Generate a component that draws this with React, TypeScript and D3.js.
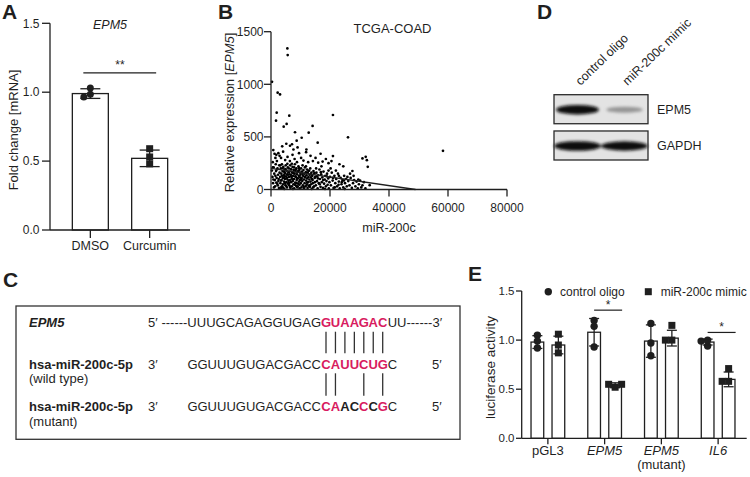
import React from 'react';
import * as d3 from 'd3';

const FONT = "'Liberation Sans', Arial, Helvetica, sans-serif";
const INK = '#1f1f1f';
const RED = '#d81b60';

// ---------- Panel A: qPCR ----------
const aCategories = ['DMSO', 'Curcumin'];
const aMeans = [0.99, 0.52];
const aSD = [0.035, 0.06];
const aPoints = [[0.985, 0.965, 1.03], [0.59, 0.53, 0.48]];
const aTicks = [0, 0.5, 1.0, 1.5];
const aSigLevel = 1.14;
const aSigText = '**';

// ---------- Panel B: TCGA-COAD scatter ----------
const bXTicks = [0, 20000, 40000, 60000, 80000];
const bYTicks = [0, 500, 1000, 1500];
const bFitIntercept = 200;
const bFitZeroAt = 49000;
const bOutliers: [number, number][] = [
  [340, 1024], [5550, 1341], [5660, 1278], [2260, 920], [3060, 904], [1930, 730], [1700, 654],
  [6200, 702], [5300, 623], [4300, 597], [14100, 604], [21000, 708], [8140, 544], [12780, 540],
  [26100, 496], [10400, 492], [8700, 464], [15830, 445], [7120, 430], [6440, 416], [5190, 435],
  [780, 375], [58300, 368], [21000, 318], [31000, 295], [32100, 311], [32500, 279], [32800, 216],
  [27600, 176], [33450, 41],
];
const bUpperBand: [number, number][] = [
  [1200, 340], [1800, 330], [2500, 345], [2900, 320], [3400, 300], [1500, 300], [4100, 360], [4800, 280],
  [5600, 310], [6400, 270], [7300, 330], [8000, 290], [8800, 260], [9500, 345], [10200, 300], [11000, 275],
  [11900, 355], [12600, 260], [13400, 320], [14200, 270], [15100, 300], [16000, 255], [16800, 340],
  [17500, 265], [18600, 290], [19500, 250], [3800, 410], [9000, 400], [12000, 380], [2000, 270], [600, 260],
  [7600, 380], [20500, 270], [23200, 240], [24500, 220],
];
const bMainCloud: [number, number][] = [
  [300, 180], [500, 120], [700, 60], [900, 210], [1100, 150], [1300, 90], [1400, 30], [1600, 240], [1700, 175],
  [1900, 110], [2100, 55], [2200, 200], [2400, 140], [2500, 80], [2700, 15], [2800, 230], [2900, 160], [1000, 20],
  [2000, 190], [2600, 100], [600, 210], [1500, 130], [2300, 40], [800, 95], [1800, 65],
  [3100, 120], [3200, 60], [3300, 200], [3400, 10], [3500, 150], [3600, 90], [3700, 240], [3800, 30], [3900, 175],
  [4000, 110], [4100, 50], [4200, 215], [4300, 135], [4400, 75], [4500, 5], [4600, 190], [4700, 100], [4800, 160],
  [4900, 40], [5000, 230], [5100, 125], [5200, 70], [5300, 180], [5400, 20], [5500, 145], [5600, 95], [5700, 210],
  [5800, 55], [5900, 165], [3150, 230], [3350, 85], [3550, 25], [3750, 130], [3950, 205], [4150, 15], [4350, 170],
  [4550, 120], [4750, 60], [4950, 195], [5150, 35], [5350, 110], [5550, 245], [5750, 140], [5950, 80], [4650, 150],
  [6000, 200], [6100, 120], [6200, 40], [6300, 170], [6400, 90], [6500, 230], [6600, 15], [6700, 140], [6800, 70],
  [6900, 190], [7000, 110], [7100, 30], [7200, 160], [7300, 215], [7400, 80], [7500, 130], [7600, 50], [7700, 185],
  [7800, 100], [7900, 10], [8000, 150], [8100, 240], [8200, 65], [8300, 175], [8400, 120], [8500, 35], [8600, 200],
  [8700, 90], [8800, 145], [8900, 20], [9000, 165], [9100, 105], [9200, 55], [9300, 220], [9400, 130], [9500, 75],
  [9600, 185], [9700, 10], [9800, 115], [9900, 160], [6050, 60], [6250, 145], [6450, 25], [6650, 195], [6850, 125],
  [7050, 245], [7250, 95], [7450, 5], [7650, 155], [7850, 210], [8050, 45], [8250, 125], [8450, 190], [8650, 60],
  [8850, 105], [9050, 30], [9250, 175], [9450, 205], [9650, 45], [9850, 90],
  [10000, 140], [10100, 60], [10200, 200], [10300, 20], [10400, 110], [10500, 170], [10600, 80], [10700, 230],
  [10800, 40], [10900, 130], [11000, 185], [11100, 95], [11200, 10], [11300, 150], [11400, 60], [11500, 210],
  [11600, 115], [11700, 30], [11800, 165], [11900, 85], [12000, 135], [12100, 45], [12200, 190], [12300, 105],
  [12400, 15], [12500, 155], [12600, 70], [12700, 120], [12800, 35], [12900, 180], [13000, 95], [13100, 140],
  [13200, 25], [13300, 200], [13400, 75], [13500, 115], [13600, 50], [13700, 160], [13800, 5], [13900, 100],
  [14000, 130], [14200, 60], [14400, 175], [14600, 30], [14800, 110], [10250, 100], [10650, 150], [11050, 25],
  [11450, 120], [11850, 220], [12250, 65], [12650, 175], [13050, 40], [13450, 145], [14100, 90], [14300, 20],
  [14700, 155], [14900, 70],
  [15000, 120], [15200, 40], [15400, 160], [15600, 80], [15800, 10], [16000, 135], [16200, 60], [16400, 190],
  [16600, 100], [16800, 25], [17000, 145], [17200, 70], [17400, 115], [17600, 15], [17800, 170], [18000, 55],
  [18200, 95], [18400, 130], [18600, 30], [18800, 80], [19000, 150], [19200, 45], [19400, 105], [19600, 10],
  [19800, 70], [15300, 200], [15900, 105], [16500, 50], [17100, 220], [17700, 90], [18300, 5], [18900, 125],
  [19500, 180], [15500, 125], [16900, 165],
  [20000, 120], [20300, 40], [20600, 160], [20900, 85], [21200, 15], [21500, 130], [21800, 60], [22100, 100],
  [22400, 30], [22700, 150], [23000, 75], [23300, 10], [23600, 110], [23900, 50], [24200, 90], [24500, 20],
  [24800, 130], [25100, 60], [25400, 100], [25700, 30], [20200, 200], [21000, 110], [22000, 180], [23000, 130],
  [24000, 70], [25000, 5], [21600, 20], [22900, 45], [24700, 85], [25900, 120],
  [26200, 80], [26600, 40], [27000, 110], [27400, 15], [27800, 60], [28200, 90], [28600, 30], [29000, 75],
  [29400, 10], [29800, 50], [30200, 85], [30600, 20], [31000, 40], [31500, 70], [32000, 10], [26800, 150],
  [28000, 130], [29600, 95],
];

// ---------- Panel C: sequence alignment ----------
const cTargetName = 'EPM5';
const cTargetPrefix = '------UUUGCAGAGGUGAG';
const cTargetSeed = 'GUAAGAC';
const cTargetSuffix = 'UU------3\u2032';
const cMirName = 'hsa-miR-200c-5p';
const cMirPrefix = 'GGUUUGUGACGACC';
const cMirWtSeed = 'CAUUCUG';
const cMirMutSeed = 'CAACCCG';
const cMirMutKept = [true, true, false, false, true, false, true];
const cMirSuffix = 'C';
const cWtPairs = [0, 1, 2, 3, 4, 5, 6];
const cMutPairs = [0, 1, 4, 6];

// ---------- Panel D: western blot ----------
const dLanes = ['control oligo', 'miR-200c mimic'];
const dProteins = ['EPM5', 'GAPDH'];
const dIntensity = [[1, 0.33], [1, 0.97]];

// ---------- Panel E: luciferase ----------
const eCategories = ['pGL3', 'EPM5', 'EPM5 (mutant)', 'IL6'];
const eLabelLine1 = ['pGL3', 'EPM5', 'EPM5', 'IL6'];
const eLabelLine2 = ['', '', '(mutant)', ''];
const eLabelItalic = [false, true, true, true];
const eSeries = ['control oligo', 'miR-200c mimic'];
const eControlMeans = [0.98, 1.08, 0.99, 0.98];
const eControlSD = [0.065, 0.14, 0.165, 0.03];
const eMimicMeans = [0.95, 0.54, 1.02, 0.6];
const eMimicSD = [0.09, 0.025, 0.08, 0.075];
const eControlPoints = [[1.05, 0.99, 0.92], [1.2, 1.14, 0.93], [1.17, 0.97, 0.84], [0.94, 0.99, 1.0]];
const eMimicPoints = [[1.06, 0.95, 0.87], [0.52, 0.55, 0.55], [1.15, 1.0, 1.0], [0.71, 0.58, 0.58]];
const eTicks = [0, 0.5, 1.0, 1.5];
const eSig = [{ cat: 'EPM5', level: 1.305 }, { cat: 'IL6', level: 1.078 }];

function swarm(values: number[], y: (v: number) => number, x0: number, step: number, minDist: number) {
  const placed: { x: number; y: number }[] = [];
  values.forEach((v) => {
    const py = y(v);
    const ks = [0, -1, 1, -2, 2, -3, 3];
    let px = x0;
    for (const k of ks) {
      const cx = x0 + k * step;
      if (placed.every((p) => Math.hypot(p.x - cx, p.y - py) >= minDist)) { px = cx; break; }
    }
    placed.push({ x: px, y: py });
  });
  return placed;
}

function Marker({ x, y, shape, size }: { x: number; y: number; shape: string; size: number }) {
  if (shape === 'circle') return <circle cx={x} cy={y} r={size / 2} fill={INK} />;
  return <rect x={x - size / 2} y={y - size / 2} width={size} height={size} fill={INK} />;
}

function ErrBar({ x, y1, y2, cap }: { x: number; y1: number; y2: number; cap: number }) {
  return (
    <g stroke={INK} strokeWidth={1.3}>
      <line x1={x} x2={x} y1={y1} y2={y2} />
      <line x1={x - cap / 2} x2={x + cap / 2} y1={y1} y2={y1} />
      <line x1={x - cap / 2} x2={x + cap / 2} y1={y2} y2={y2} />
    </g>
  );
}

export default function App() {
  // ---- A scales
  const yA = d3.scaleLinear().domain([0, 1.5]).range([230, 23.3]);
  const xA = d3.scalePoint<string>().domain(aCategories).range([50, 190]).padding(0.68);
  const aBarW = 36;

  // ---- B scales
  const xB = d3.scaleLinear().domain([0, 80000]).range([271, 507]);
  const yB = d3.scaleLinear().domain([0, 1500]).range([189.5, 31.7]);
  const bAll = [...bOutliers, ...bUpperBand, ...bMainCloud];
  const fitLine = d3.line<[number, number]>().x((d) => xB(d[0])).y((d) => yB(d[1]));
  const fitData: [number, number][] = [[0, bFitIntercept], [bFitZeroAt, 0]];

  // ---- D
  const xD = d3.scaleBand<string>().domain(dLanes).range([554, 648]);
  const yD = d3.scaleBand<string>().domain(dProteins).range([94.7, 160]).paddingInner(0.2);
  const grey = d3.interpolateRgb('#d9d9d9', '#0b0b0b');

  // ---- E scales
  const yE = d3.scaleLinear().domain([0, 1.5]).range([438.3, 291]);
  const xE = d3.scaleBand<string>().domain(eCategories).range([519.5, 746.5]);
  const eCenter = (c: string) => (xE(c) as number) + xE.bandwidth() / 2;
  const eOff = 10.5;
  const eBarW = 12.7;

  // ---- C geometry
  const seedStart = 326;
  const seedPitch = 9.45;
  const seedX = (i: number) => seedStart + i * seedPitch;

  return (
    <svg width={750} height={477} style={{ position: 'absolute', left: 0, top: 0, background: '#fff' }}
      fontFamily={FONT} fill={INK}>
      <defs>
        <filter id="bandBlur" x="-30%" y="-100%" width="160%" height="300%">
          <feGaussianBlur stdDeviation="1.6" />
        </filter>
      </defs>

      {/* Panel letters */}
      <g fontWeight="bold" fontSize={21}>
        <text x={2} y={18.5}>A</text>
        <text x={218} y={18.5}>B</text>
        <text x={537} y={18.5}>D</text>
        <text x={3} y={287}>C</text>
        <text x={468} y={281}>E</text>
      </g>

      {/* ================= Panel A ================= */}
      <g>
        <text x={110} y={28.5} fontSize={12.5} fontStyle="italic" textAnchor="middle">EPM5</text>
        <text transform={`translate(17.5,130) rotate(-90)`} fontSize={13} textAnchor="middle">Fold change [mRNA]</text>
        {aCategories.map((c, i) => {
          const cx = xA(c) as number;
          const pts = swarm(aPoints[i], yA, cx, 6.5, 5.5);
          return (
            <g key={c}>
              <rect x={cx - aBarW / 2} y={yA(aMeans[i])} width={aBarW} height={yA(0) - yA(aMeans[i])}
                fill="#fff" stroke={INK} strokeWidth={1.3} />
              {pts.map((p, j) => <Marker key={j} x={p.x} y={p.y} shape={i === 0 ? 'circle' : 'square'} size={7} />)}
              <ErrBar x={cx} y1={yA(aMeans[i] + aSD[i])} y2={yA(aMeans[i] - aSD[i])} cap={20} />
              <line x1={cx} x2={cx} y1={yA(0)} y2={yA(0) + 8} stroke={INK} strokeWidth={1.3} />
              <text x={cx} y={250} fontSize={12.5} textAnchor="middle">{c}</text>
            </g>
          );
        })}
        <line x1={50} x2={50} y1={yA(1.5)} y2={yA(0)} stroke={INK} strokeWidth={1.3} />
        <line x1={50} x2={190} y1={yA(0)} y2={yA(0)} stroke={INK} strokeWidth={1.3} />
        {aTicks.map((t) => (
          <g key={t}>
            <line x1={42} x2={50} y1={yA(t)} y2={yA(t)} stroke={INK} strokeWidth={1.3} />
            <text x={39.5} y={yA(t) + 4.2} fontSize={12} textAnchor="end">{t.toFixed(1)}</text>
          </g>
        ))}
        <line x1={(xA('DMSO') as number) - 7} x2={(xA('Curcumin') as number) + 6.5}
          y1={yA(aSigLevel)} y2={yA(aSigLevel)} stroke={INK} strokeWidth={1.2} />
        <text x={((xA('DMSO') as number) + (xA('Curcumin') as number)) / 2} y={yA(aSigLevel) - 4}
          fontSize={12} textAnchor="middle">{aSigText}</text>
      </g>

      {/* ================= Panel B ================= */}
      <g>
        <text x={392.5} y={32.7} fontSize={13} textAnchor="middle">TCGA-COAD</text>
        <text x={389} y={231.5} fontSize={12.5} textAnchor="middle">miR-200c</text>
        <text transform={`translate(234,112.5) rotate(-90)`} fontSize={13} textAnchor="middle">
          Relative expression [<tspan fontStyle="italic">EPM5</tspan>]
        </text>
        {bAll.map((d, i) => (
          <circle key={i} cx={xB(d[0])} cy={yB(d[1])} r={1.35} fill="#000" />
        ))}
        <path d={fitLine(fitData) as string} stroke={INK} strokeWidth={1.3} fill="none" />
        <line x1={xB(0)} x2={xB(0)} y1={yB(1500)} y2={yB(0)} stroke={INK} strokeWidth={1.3} />
        <line x1={xB(0)} x2={xB(80000)} y1={yB(0)} y2={yB(0)} stroke={INK} strokeWidth={1.3} />
        {bYTicks.map((t) => (
          <g key={t}>
            <line x1={xB(0) - 7} x2={xB(0)} y1={yB(t)} y2={yB(t)} stroke={INK} strokeWidth={1.3} />
            <text x={xB(0) - 7.5} y={yB(t) + 4.2} fontSize={12} textAnchor="end">{t}</text>
          </g>
        ))}
        {bXTicks.map((t) => (
          <g key={t}>
            <line x1={xB(t)} x2={xB(t)} y1={yB(0)} y2={yB(0) + 7} stroke={INK} strokeWidth={1.3} />
            <text x={xB(t)} y={211.5} fontSize={12} textAnchor="middle">{t}</text>
          </g>
        ))}
      </g>

      {/* ================= Panel D ================= */}
      <g>
        {dLanes.map((l, i) => {
          const cx = (xD(l) as number) + xD.bandwidth() / 2;
          return (
            <text key={l} transform={`translate(${cx + 3},86) rotate(-44)`} fontSize={12.5}>{l}</text>
          );
        })}
        {dProteins.map((p, r) => {
          const y0 = yD(p) as number;
          const h = yD.bandwidth();
          return (
            <g key={p}>
              <rect x={554} y={y0} width={94} height={h} fill="#e3e3e3" />
              <g filter="url(#bandBlur)">
                {dLanes.map((l, i) => {
                  const cx = (xD(l) as number) + xD.bandwidth() / 2;
                  const inten = dIntensity[r][i];
                  const rx = (xD.bandwidth() / 2) * (0.74 + 0.22 * inten) * (r === 1 ? 1.05 : 0.95);
                  const ry = 2.2 + 2.6 * inten;
                  return <ellipse key={l} cx={cx} cy={y0 + h / 2 + 0.5} rx={rx} ry={ry} fill={grey(inten)} />;
                })}
              </g>
              <rect x={554} y={y0} width={94} height={h} fill="none" stroke="#2a2a2a" strokeWidth={1.3} />
              <text x={657} y={y0 + h / 2 + 4.5} fontSize={12.5}>{p}</text>
            </g>
          );
        })}
      </g>

      {/* ================= Panel C ================= */}
      <g fontSize={13}>
        <rect x={16} y={306} width={444} height={133.3} fill="none" stroke="#333" strokeWidth={1.3} />
        {/* row 1 */}
        <text x={29} y={326.5} fontWeight="bold" fontStyle="italic">{cTargetName}</text>
        <text x={148} y={326.5}>5{'\u2032'}</text>
        <text x={seedStart - 5} y={326.5} textAnchor="end">{cTargetPrefix}</text>
        {cTargetSeed.split('').map((ch, i) => (
          <text key={i} x={seedX(i)} y={326.5} textAnchor="middle" fontWeight="bold" fill={RED}>{ch}</text>
        ))}
        <text x={seedX(6) + 5} y={326.5}>{cTargetSuffix}</text>
        {cWtPairs.map((i) => (
          <line key={i} x1={seedX(i)} x2={seedX(i)} y1={331.7} y2={353.3} stroke="#333" strokeWidth={1.3} />
        ))}
        {/* row 2 */}
        <text x={29} y={368.5} fontWeight="bold">{cMirName}</text>
        <text x={29} y={382.5}>(wild type)</text>
        <text x={148} y={368.5}>3{'\u2032'}</text>
        <text x={seedStart - 5} y={368.5} textAnchor="end">{cMirPrefix}</text>
        {cMirWtSeed.split('').map((ch, i) => (
          <text key={i} x={seedX(i)} y={368.5} textAnchor="middle" fontWeight="bold" fill={RED}>{ch}</text>
        ))}
        <text x={seedX(6) + 5} y={368.5}>{cMirSuffix}</text>
        <text x={432} y={368.5}>5{'\u2032'}</text>
        {cMutPairs.map((i) => (
          <line key={i} x1={seedX(i)} x2={seedX(i)} y1={373.3} y2={395.7} stroke="#333" strokeWidth={1.3} />
        ))}
        {/* row 3 */}
        <text x={29} y={411} fontWeight="bold">{cMirName}</text>
        <text x={29} y={425.5}>(mutant)</text>
        <text x={148} y={411}>3{'\u2032'}</text>
        <text x={seedStart - 5} y={411} textAnchor="end">{cMirPrefix}</text>
        {cMirMutSeed.split('').map((ch, i) => (
          <text key={i} x={seedX(i)} y={411} textAnchor="middle" fontWeight="bold" fill={cMirMutKept[i] ? RED : INK}>{ch}</text>
        ))}
        <text x={seedX(6) + 5} y={411}>{cMirSuffix}</text>
        <text x={432} y={411}>5{'\u2032'}</text>
      </g>

      {/* ================= Panel E ================= */}
      <g>
        <text transform={`translate(494.5,367.5) rotate(-90)`} fontSize={13.5} textAnchor="middle">luciferase activity</text>
        {/* legend */}
        <Marker x={548.3} y={291.7} shape="circle" size={7.4} />
        <text x={560} y={296} fontSize={12}>{eSeries[0]}</text>
        <Marker x={648.3} y={291.7} shape="square" size={7} />
        <text x={660.7} y={296} fontSize={12}>{eSeries[1]}</text>

        {eCategories.map((c, i) => {
          const gc = eCenter(c);
          const cxC = gc - eOff;
          const cxM = gc + eOff;
          const ptsC = swarm(eControlPoints[i], yE, cxC, 6.5, 5.5);
          const ptsM = swarm(eMimicPoints[i], yE, cxM, 6.5, 5.5);
          return (
            <g key={c}>
              <rect x={cxC - eBarW / 2} y={yE(eControlMeans[i])} width={eBarW} height={yE(0) - yE(eControlMeans[i])}
                fill="#fff" stroke={INK} strokeWidth={1.3} />
              <rect x={cxM - eBarW / 2} y={yE(eMimicMeans[i])} width={eBarW} height={yE(0) - yE(eMimicMeans[i])}
                fill="#fff" stroke={INK} strokeWidth={1.3} />
              {ptsC.map((p, j) => <Marker key={'c' + j} x={p.x} y={p.y} shape="circle" size={7.4} />)}
              {ptsM.map((p, j) => <Marker key={'m' + j} x={p.x} y={p.y} shape="square" size={7} />)}
              <ErrBar x={cxC} y1={yE(eControlMeans[i] + eControlSD[i])} y2={yE(eControlMeans[i] - eControlSD[i])} cap={10} />
              <ErrBar x={cxM} y1={yE(eMimicMeans[i] + eMimicSD[i])} y2={yE(eMimicMeans[i] - eMimicSD[i])} cap={10} />
              <line x1={gc} x2={gc} y1={yE(0)} y2={yE(0) + 6} stroke={INK} strokeWidth={1.3} />
              <text x={gc} y={455} fontSize={13} textAnchor="middle" fontStyle={eLabelItalic[i] ? 'italic' : 'normal'}>{eLabelLine1[i]}</text>
              {eLabelLine2[i] && <text x={gc} y={468.5} fontSize={13} textAnchor="middle">{eLabelLine2[i]}</text>}
            </g>
          );
        })}
        <line x1={521.7} x2={521.7} y1={yE(1.5)} y2={yE(0)} stroke={INK} strokeWidth={1.3} />
        <line x1={521.7} x2={746.7} y1={yE(0)} y2={yE(0)} stroke={INK} strokeWidth={1.3} />
        {eTicks.map((t) => (
          <g key={t}>
            <line x1={516} x2={521.7} y1={yE(t)} y2={yE(t)} stroke={INK} strokeWidth={1.3} />
            <text x={514.5} y={yE(t) + 4} fontSize={11.5} textAnchor="end">{t.toFixed(1)}</text>
          </g>
        ))}
        {eSig.map((s) => {
          const gc = eCenter(s.cat);
          const x1 = gc - eOff;
          const x2 = gc + eOff + 7;
          return (
            <g key={s.cat}>
              <line x1={x1} x2={x2} y1={yE(s.level)} y2={yE(s.level)} stroke={INK} strokeWidth={1.2} />
              <text x={(x1 + x2) / 2} y={yE(s.level) - 1.5} fontSize={12} textAnchor="middle">*</text>
            </g>
          );
        })}
      </g>
    </svg>
  );
}
